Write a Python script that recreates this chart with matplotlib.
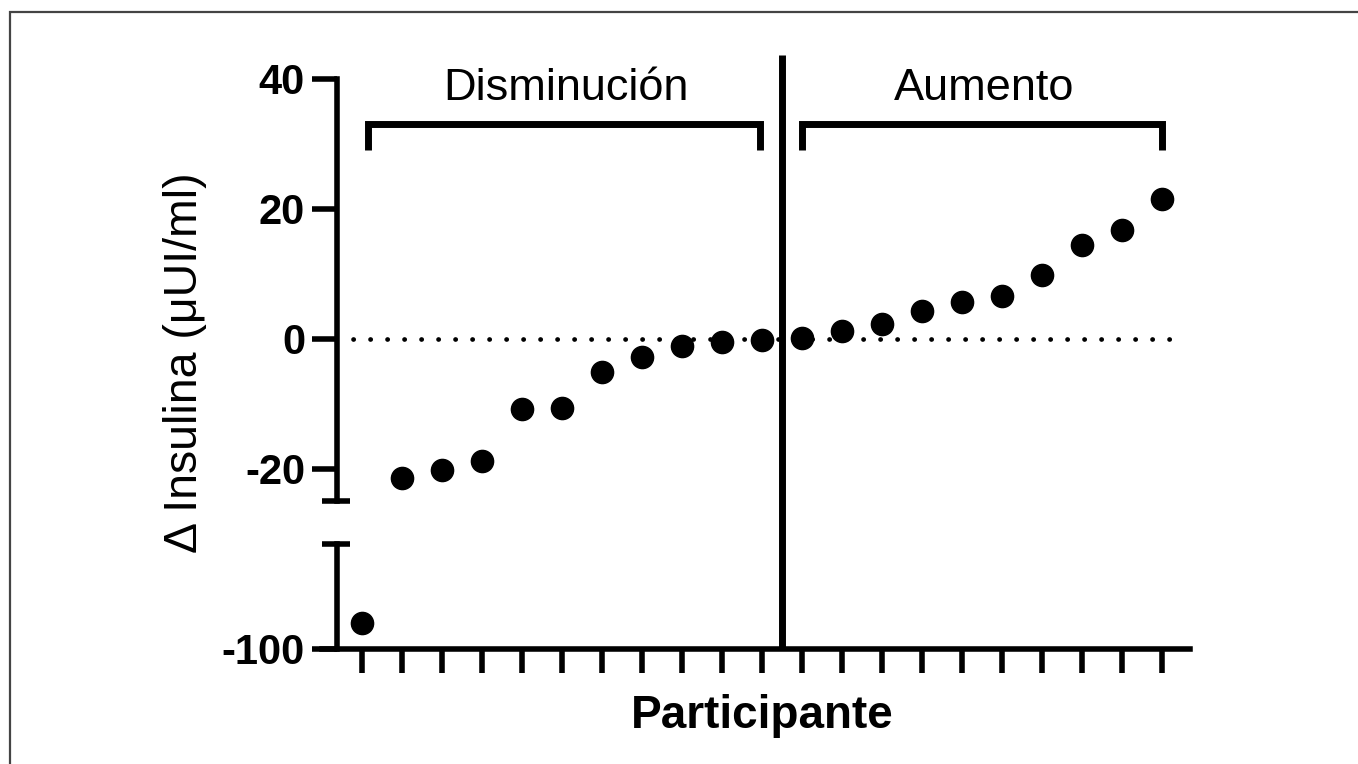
import matplotlib
matplotlib.use("Agg")
import matplotlib.pyplot as plt
from matplotlib.patches import Rectangle

plt.rcParams['font.family'] = ['Liberation Sans', 'DejaVu Sans']

participants = list(range(1, 22))
delta_insulin = [-96.0, -21.5, -20.3, -18.9, -10.8, -10.6, -5.2, -2.8, -1.1, -0.5, -0.15,
                 0.15, 1.2, 2.3, 4.2, 5.7, 6.6, 9.8, 14.5, 16.8, 21.5]
top_ticks = [-20, 0, 20, 40]
bottom_ticks = [-100]
group_labels = ["Disminución", "Aumento"]
ylabel = "Δ Insulina (μUI/ml)"
xlabel = "Participante"

W, H = 1358, 764
fig = plt.figure(figsize=(W / 100, H / 100), dpi=100)

def fx(px):
    return px / W

def fy(py):
    return 1 - py / H

left, right = fx(337), fx(1190)
ax_top = fig.add_axes([left, fy(501), right - left, fy(46.5) - fy(501)])
ax_bot = fig.add_axes([left, fy(649), right - left, fy(544) - fy(649)])

tick_fs = 30
axis_lw = 4.0
xlim = (0.375, 21.7)
for ax in (ax_top, ax_bot):
    ax.set_xlim(*xlim)
    ax.set_facecolor('none')
    for s in ('top', 'right'):
        ax.spines[s].set_visible(False)
    ax.spines['left'].set_linewidth(axis_lw)
    ax.spines['bottom'].set_linewidth(axis_lw)
    ax.tick_params(axis='y', length=18, width=axis_lw, pad=5)

ax_top.set_ylim(-25, 45)
ax_top.spines['left'].set_bounds(-25, 40)
ax_top.spines['bottom'].set_visible(False)
ax_top.set_xticks([])
ax_top.set_yticks(top_ticks)
ax_top.set_yticklabels([str(t) for t in top_ticks], fontweight='bold', fontsize=tick_fs)

lo = -100
hi = lo + 105 / 6.5
ax_bot.set_ylim(lo, hi)
ax_bot.set_yticks(bottom_ticks)
ax_bot.set_yticklabels([str(t) for t in bottom_ticks], fontweight='bold', fontsize=tick_fs)
ax_bot.set_xticks(participants)
ax_bot.set_xticklabels([])
ax_bot.tick_params(axis='x', length=17, width=axis_lw, direction='out')
ax_bot.spines['bottom'].set_bounds(0.0, 21.7)

# break caps
ax_top.plot([0.0, 0.7], [-25, -25], color='black', lw=axis_lw, clip_on=False, solid_capstyle='butt')
ax_bot.plot([0.0, 0.7], [hi, hi], color='black', lw=axis_lw, clip_on=False, solid_capstyle='butt')

# points
for ax in (ax_top, ax_bot):
    ax.plot(participants, delta_insulin, 'o', color='black', markersize=16, clip_on=True, zorder=5)

# dotted zero line
ax_top.plot([0.78, 21.5], [0, 0], color='black', lw=3.4, linestyle=(0, (0.05, 3.55)),
            dash_capstyle='round')

# divider line (continuous through the break)
ax_top.plot([11.5, 11.5], [43.7, -47.7], color='black', lw=5.0, clip_on=False, solid_capstyle='butt')

# brackets
brackets = [(1.15, 10.95), (12.0, 21.0)]
for (a, b), lab in zip(brackets, group_labels):
    ax_top.plot([a, a, b, b], [29.1, 33.1, 33.1, 29.1], color='black', lw=5,
                solid_joinstyle='miter', solid_capstyle='butt', clip_on=False)
    ax_top.text((a + b) / 2 + 0.05, 38.5, lab, ha='center', va='center', fontsize=32.5)

fig.text(fx(185), fy(363), ylabel, rotation=90, ha='center', va='center', fontsize=33.5)
fig.text(fx(762), fy(716), xlabel, ha='center', va='center', fontsize=33, fontweight='bold')

fig.patches.append(Rectangle((fx(10), fy(800)), 1.2, fy(12) - fy(800), transform=fig.transFigure,
                             fill=False, edgecolor='#444444', lw=1.6))

fig.savefig('out.png', dpi=100)
